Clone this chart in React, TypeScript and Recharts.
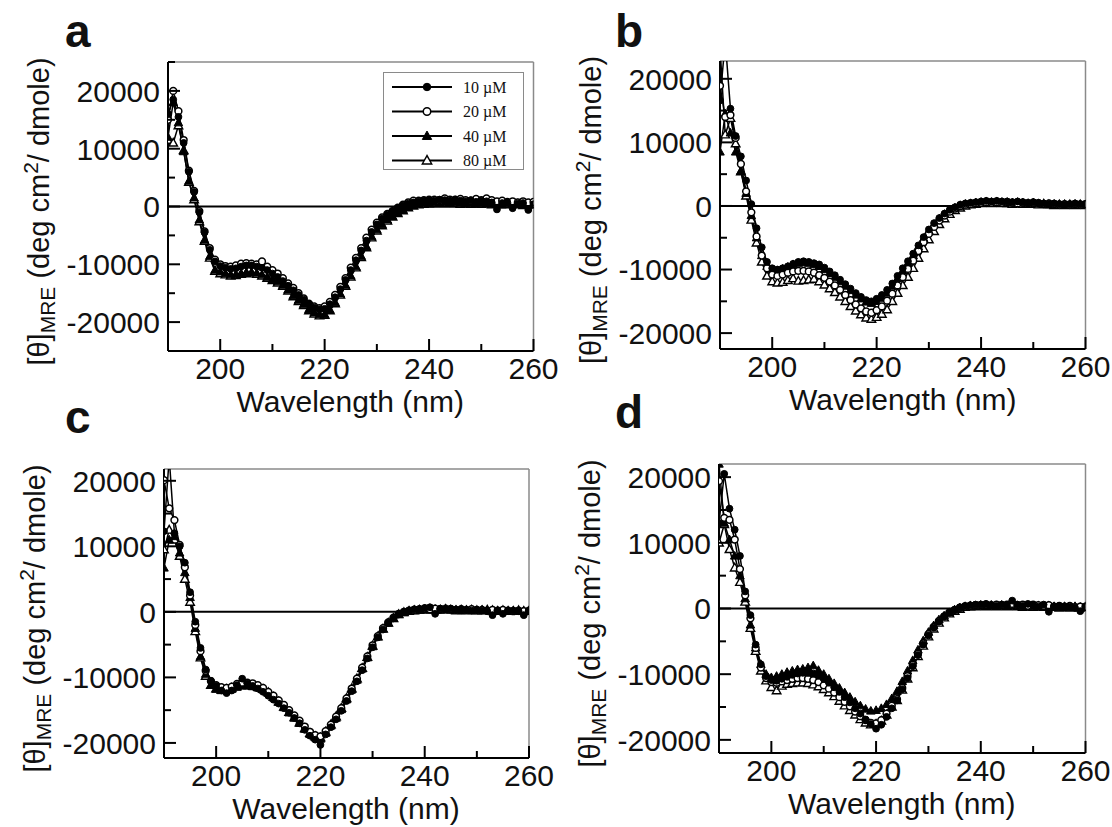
import React from 'react';
import { LineChart, Line, XAxis, YAxis, ReferenceLine, Legend } from 'recharts';

const SANS = '"Liberation Sans", Arial, Helvetica, sans-serif';
const SERIF = '"Liberation Serif", "Times New Roman", serif';

// wavelength (nm), 1 nm steps
const wavelengths = [
  190, 191, 192, 193, 194, 195, 196, 197, 198, 199,
  200, 201, 202, 203, 204, 205, 206, 207, 208, 209,
  210, 211, 212, 213, 214, 215, 216, 217, 218, 219,
  220, 221, 222, 223, 224, 225, 226, 227, 228, 229,
  230, 231, 232, 233, 234, 235, 236, 237, 238, 239,
  240, 241, 242, 243, 244, 245, 246, 247, 248, 249,
  250, 251, 252, 253, 254, 255, 256, 257, 258, 259,
  260,
];

const seriesDefs = [
  { key: 'c10', name: '10 µM', kind: 'fc' },
  { key: 'c20', name: '20 µM', kind: 'oc' },
  { key: 'c40', name: '40 µM', kind: 'ft' },
  { key: 'c80', name: '80 µM', kind: 'ot' },
];

const xTicks = [200, 210, 220, 230, 240, 250, 260];
const yTicksA = [-25000, -20000, -15000, -10000, -5000, 0, 5000, 10000, 15000, 20000, 25000];
const yTicks = [-20000, -15000, -10000, -5000, 0, 5000, 10000, 15000, 20000];

// ---- panel a ----
const a10 = [
  16000, 18500, 15500, 11000, 6000, 2500, -1000, -4500, -7500, -9500,
  -10300, -10600, -10800, -10700, -10400, -10200, -10200, -10400, -10600, -11000,
  -11600, -12200, -12900, -13700, -14500, -15300, -16100, -16900, -17500, -17800,
  -17700, -16900, -15700, -14300, -12700, -11000, -9300, -7600, -5900, -4400,
  -3100, -2100, -1400, -800, -300, 200, 500, 700, 900, 1000,
  1100, 1000, 1200, 1100, 1000, 1200, 1000, 900, 1100, 800,
  1000, 900, 700, -500, 600, 700, -300, 500, 600, -600,
  400,
];
const a20 = [
  15000, 20000, 16500, 11500, 6200, 2700, -800, -4300, -7200, -9200,
  -10000, -10300, -10400, -10200, -9900, -9800, -9900, -10000, -9500, -10400,
  -11000, -11600, -12400, -13300, -14100, -15000, -15900, -16800, -17300, -17600,
  -17300, -16500, -15300, -13900, -12400, -10600, -8900, -7200, -5400, -4000,
  -2800, -1900, -1300, -800, -200, 300, 700, 1000, 1000, 1100,
  1200, 1200, 1100, 1400, 1200, 1200, 1300, 1100, 1000, 1300,
  1100, 1400, 1100, 900, 1000, 800, 900, 700, 900, 700,
  800,
];
const a40 = [
  12000, 18000, 14500, 9500, 4400, 1500, -2300, -5800, -8600, -11000,
  -11300, -11600, -11800, -11800, -11600, -11400, -11400, -11500, -11800, -12200,
  -12600, -13000, -13600, -14400, -15400, -16200, -16900, -17800, -18400, -18700,
  -18700, -17900, -16600, -15100, -13600, -12000, -10400, -8600, -6900, -5200,
  -4000, -3100, -2300, -1700, -1100, -600, -100, 200, 400, 500,
  600, 700, 600, 700, 600, 700, 500, 600, 500, 600,
  500, 600, 400, 500, 300, 500, 400, 500, 300, 400,
  300,
];
const a80 = [
  11500, 11000, 14000, 9700, 4200, 1200, -2600, -6000, -8900, -11200,
  -11600, -11800, -12000, -11900, -11700, -11600, -11500, -11700, -12000, -12400,
  -12800, -13200, -13800, -14600, -15600, -16400, -17100, -18000, -18600, -18900,
  -18800, -18000, -16800, -15300, -13800, -12200, -10600, -8800, -7100, -5400,
  -4200, -3300, -2500, -1800, -1200, -700, -200, 100, 300, 400,
  500, 500, 600, 500, 600, 500, 400, 500, 400, 500,
  400, 500, 300, 400, 300, 400, 300, 400, 200, 300,
  300,
];

// ---- panel b ----
const b10 = [
  16600, 26000, 15300, 11000, 7800, 4000, 300, -3500, -6500, -8800,
  -9800, -10000, -9800, -9500, -9100, -8800, -8700, -8800, -9000, -9200,
  -9700, -10300, -10900, -11600, -12300, -13000, -13700, -14300, -14800, -15000,
  -14600, -14000, -13200, -12200, -11000, -9800, -8700, -7500, -6200, -4900,
  -3700, -2700, -1900, -1200, -600, -200, 200, 400, 500, 600,
  700, 800, 700, 800, 700, 700, 600, 700, 600, 500,
  600, 500, 400, 300, 400, 300, 200, 300, 400, 300,
  300,
];
const b20 = [
  18900, 14000, 14300, 10700, 6600, 2300, -1000, -4800, -7800, -9800,
  -10800, -11000, -10800, -10500, -10300, -10200, -10200, -10300, -10500, -10900,
  -11300, -11900, -12500, -13200, -14000, -14800, -15500, -16100, -16600, -16800,
  -16400, -15800, -14900, -13800, -12500, -11200, -9900, -8600, -7100, -5700,
  -4400, -3300, -2300, -1500, -900, -400, 0, 200, 300, 400,
  500, 600, 500, 600, 500, 600, 500, 400, 500, 400,
  500, 400, 300, 400, 300, 200, 300, 200, 300, 200,
  300,
];
const b40 = [
  8500, 14500, 11500, 8500, 5500, 2000, -1500, -5000, -7800, -9500,
  -10200, -10200, -9900, -9600, -9200, -9000, -8900, -9000, -9200, -9500,
  -10000, -10600, -11200, -11900, -12600, -13300, -14000, -14600, -15100, -15300,
  -15000, -14500, -13700, -12600, -11400, -10200, -9000, -7800, -6400, -5100,
  -3900, -2900, -2000, -1300, -700, -300, 100, 300, 400, 500,
  600, 700, 600, 700, 600, 600, 500, 600, 500, 400,
  500, 400, 300, 200, 300, 200, 300, 200, 300, 200,
  200,
];
const b80 = [
  25000, 11200, 13800, 9800, 5400, 1600, -2200, -5800, -8800, -11000,
  -11900, -12100, -12000, -11700, -11400, -11800, -11700, -11600, -11500, -11900,
  -12400, -13000, -13600, -14300, -15000, -15800, -16500, -17100, -17600, -17800,
  -17500, -17000, -16300, -15000, -13700, -12500, -11200, -9800, -8200, -6700,
  -5300, -4000, -2900, -2000, -1300, -700, -300, 0, 200, 300,
  400, 500, 400, 500, 400, 400, 300, 400, 300, 300,
  300, 200, 300, 200, 100, 200, 100, 200, 100, 200,
  100,
];

// ---- panel c ----
const c10 = [
  12300, 23500, 12000, 10000, 7500, 3000, -1500, -5500, -8800, -10500,
  -11300, -12000, -12400, -12000, -11200, -10200, -10900, -11300, -11700, -12200,
  -12800, -13400, -14000, -14700, -15400, -16200, -17000, -18000, -18900, -19500,
  -20300, -18700, -17600, -16400, -15100, -13600, -12100, -10600, -8900, -7100,
  -5400, -3900, -2700, -1700, -1000, -400, 0, 200, 400, 400,
  600, 700, -300, 500, 400, 500, 300, 400, 300, 200,
  300, 200, 100, -500, 200, -300, 100, 200, 100, -500,
  100,
];
const c20 = [
  20100, 15800, 14000, 10200, 6800, 2500, -2000, -6000, -9000, -10600,
  -11200, -11500, -11600, -11400, -11000, -10800, -10800, -10900, -11200, -11600,
  -12200, -12800, -13500, -14200, -15000, -15800, -16600, -17500, -18300, -18800,
  -19000, -18200, -17200, -16000, -14700, -13200, -11700, -10200, -8500, -6800,
  -5100, -3700, -2500, -1600, -900, -300, 0, 200, 300, 400,
  500, 400, 500, 400, 500, 400, 300, 400, 300, 400,
  300, 300, 200, 300, 200, 300, 200, 100, 200, 100,
  200,
];
const c40 = [
  6700, 11000, 11500, 9000, 6000, 2200, -2500, -6800, -9500, -11200,
  -11800, -12000, -12000, -11800, -11500, -11300, -11300, -11400, -11600, -11900,
  -12400, -13100, -13800, -14600, -15400, -16200, -17000, -17900, -18700, -19200,
  -19400, -18500, -17400, -16200, -14900, -13400, -11900, -10400, -8700, -7000,
  -5300, -3800, -2600, -1700, -1000, -400, -100, 100, 200, 300,
  400, 300, 400, 300, 400, 300, 300, 200, 300, 200,
  200, 300, 200, 200, 100, 200, 100, 200, 100, 100,
  100,
];
const c80 = [
  9500, 12500, 11000, 8500, 5000, 1500, -3000, -7000, -9800, -11200,
  -11700, -11900, -11800, -11600, -11300, -11200, -11200, -11300, -11500, -11800,
  -12300, -13000, -13700, -14500, -15300, -16100, -16900, -17800, -18500, -19000,
  -19200, -18300, -17200, -16000, -14700, -13200, -11700, -10200, -8600, -6900,
  -5200, -3800, -2600, -1700, -1000, -400, -100, 100, 200, 300,
  300, 400, 300, 300, 400, 300, 200, 300, 200, 300,
  200, 200, 300, 200, 100, 200, 100, 100, 200, 100,
  100,
];

// ---- panel d ----
const d10 = [
  13000, 20500, 15200, 12000, 8000, 2600, -1000, -5500, -8500, -10300,
  -10900, -11000, -10700, -10400, -10100, -9900, -9800, -9800, -9900, -10200,
  -10700, -11300, -12000, -12700, -13500, -14300, -15200, -16000, -16900, -17600,
  -18300, -17700, -16500, -15200, -14000, -12300, -10600, -8800, -7100, -5500,
  -4100, -2900, -2000, -1200, -600, -200, 200, 400, 500, 600,
  600, 700, 500, 400, 600, 500, 1200, 600, 400, 700,
  500, 300, 600, -500, 300, 400, 200, 300, 100, -400,
  200,
];
const d20 = [
  19400, 13800, 13500, 10500, 6000, 2000, -1500, -6000, -9000, -10600,
  -11200, -11300, -11100, -10900, -10700, -10600, -10600, -10700, -10900, -11200,
  -11700, -12200, -12800, -13500, -14200, -14900, -15700, -16400, -17000, -17400,
  -17500, -17000, -16000, -14800, -13800, -12100, -10300, -8600, -6900, -5300,
  -3900, -2800, -1900, -1200, -600, -200, 100, 300, 400, 500,
  500, 600, 500, 600, 500, 600, 700, 500, 600, 400,
  600, 500, 400, 500, 300, 400, 300, 400, 200, 300,
  300,
];
const d40 = [
  22000, 13000, 10500, 8000, 5000, 1500, -2500, -6000, -8500, -10000,
  -10500, -10300, -10000, -9700, -9500, -9300, -9200, -9000, -8700, -9400,
  -10000, -10700, -11400, -12100, -12800, -13500, -14200, -14800, -15300, -15600,
  -15500, -15200, -14600, -13700, -12600, -11100, -9500, -7900, -6300, -4900,
  -3600, -2600, -1700, -1100, -600, -200, 100, 300, 400, 400,
  500, 400, 500, 400, 500, 400, 500, 400, 300, 400,
  300, 400, 300, 200, 300, 200, 300, 200, 300, 200,
  200,
];
const d80 = [
  10000, 12800, 9000, 6200, 4000, 1000, -3000, -6500, -9500, -11000,
  -12000, -12500, -11800, -11500, -11400, -11300, -11300, -11400, -11600, -11900,
  -12300, -12800, -13400, -14100, -14800, -15500, -16200, -16900, -17400, -17700,
  -17600, -17100, -16200, -15000, -14000, -12400, -10700, -9000, -7300, -5700,
  -4300, -3100, -2200, -1400, -800, -400, -100, 200, 300, 300,
  400, 300, 400, 300, 400, 300, 400, 300, 200, 300,
  200, 300, 200, 300, 200, 100, 200, 100, 200, 100,
  200,
];

const toRows = (s10: number[], s20: number[], s40: number[], s80: number[]) =>
  wavelengths.map((w, i) => ({ w, c10: s10[i], c20: s20[i], c40: s40[i], c80: s80[i] }));

const YW = 150; // room left of the plot for ticks
const XH = 80;
const TOP = 24; // room above the plot for the top tick label

const panels = [
  { letter: 'a', lx: 65, ly: 47, left: 167.5, top: 62, w: 365.5, h: 289, yDomain: [-25000, 25000], ticks: yTicksA, rows: toRows(a10, a20, a40, a80), legend: true },
  { letter: 'b', lx: 615, ly: 47, left: 720, top: 61, w: 365.5, h: 288, yDomain: [-22500, 22800], ticks: yTicks, rows: toRows(b10, b20, b40, b80), legend: false },
  { letter: 'c', lx: 65, ly: 433, left: 163.5, top: 469, w: 365, h: 289, yDomain: [-22300, 21800], ticks: yTicks, rows: toRows(c10, c20, c40, c80), legend: false },
  { letter: 'd', lx: 615, ly: 428, left: 718.5, top: 464, w: 366.5, h: 289, yDomain: [-22000, 22000], ticks: yTicks, rows: toRows(d10, d20, d40, d80), legend: false },
];

function Marker({ kind, cx, cy, s = 1 }: any) {
  const r = 3.4 * s;
  if (kind === 'fc') return <circle cx={cx} cy={cy} r={r} fill="#000" stroke="#000" strokeWidth={1} />;
  if (kind === 'oc') return <circle cx={cx} cy={cy} r={r} fill="#fff" stroke="#000" strokeWidth={1.5} />;
  const t = 4.5 * s;
  const pts = `${cx},${cy - t} ${cx - t * 0.95},${cy + t * 0.7} ${cx + t * 0.95},${cy + t * 0.7}`;
  return (
    <polygon
      points={pts}
      fill={kind === 'ft' ? '#000' : '#fff'}
      stroke="#000"
      strokeWidth={kind === 'ft' ? 1 : 1.4}
    />
  );
}

const YTick = (props: any) => {
  const { x, y, payload } = props;
  const v = payload.value;
  const major = v % 10000 === 0;
  return (
    <g>
      <line x1={x} y1={y} x2={x + (major ? 12 : 7)} y2={y} stroke="#000" strokeWidth={2} />
      {major && (
        <text x={x - 8} y={y} dy="0.36em" textAnchor="end" fontFamily={SANS} fontSize={30} fill="#111">
          {v}
        </text>
      )}
    </g>
  );
};

const XTick = (props: any) => {
  const { x, y, payload } = props;
  const v = payload.value;
  const major = v % 20 === 0;
  return (
    <g>
      <line x1={x} y1={y} x2={x} y2={y - (major ? 12 : 7)} stroke="#000" strokeWidth={2} />
      {major && (
        <text x={x} y={y + 28} textAnchor="middle" fontFamily={SANS} fontSize={30} fill="#111">
          {v}
        </text>
      )}
    </g>
  );
};

const LegendBox = () => (
  <div style={{ width: 141, height: 98, border: '1px solid #8a8a8a', boxSizing: 'border-box', background: '#fff' }}>
    <svg width={139} height={96} style={{ display: 'block' }}>
      {seriesDefs.map((s, i) => (
        <g key={s.key} transform={`translate(0, ${14 + i * 24.5})`}>
          <line x1={8} x2={68} y1={0} y2={0} stroke="#000" strokeWidth={2} />
          <Marker kind={s.kind} cx={43} cy={0} s={1.1} />
          <text x={79} y={0} dy="0.35em" fontFamily={SERIF} fontSize={16} fill="#111">
            {s.name}
          </text>
        </g>
      ))}
    </svg>
  </div>
);

function Titles({ p }: any) {
  const cx = p.left - 119;
  const cy = p.top + p.h / 2 + 5;
  return (
    <g>
      <text x={p.lx} y={p.ly} fontFamily={SANS} fontWeight="bold" fontSize={46} fill="#111">
        {p.letter}
      </text>
      <text
        transform={`translate(${cx},${cy}) rotate(-90)`}
        textAnchor="middle"
        fontFamily={SANS}
        fontSize={29}
        fill="#111"
      >
        <tspan>[θ]</tspan>
        <tspan fontSize={21} dy={6}>MRE</tspan>
        <tspan dy={-6}>{'\u00A0(deg cm'}</tspan>
        <tspan fontSize={21} dy={-11}>2</tspan>
        <tspan dy={11}>{'/ dmole)'}</tspan>
      </text>
      <text x={p.left + p.w / 2} y={p.top + p.h + 61} textAnchor="middle" fontFamily={SANS} fontSize={30} fill="#111">
        Wavelength (nm)
      </text>
    </g>
  );
}

function Panel({ p }: any) {
  return (
    <div style={{ position: 'absolute', left: p.left - YW, top: p.top - TOP }}>
      <LineChart
        width={YW + p.w + 30}
        height={TOP + p.h + XH}
        data={p.rows}
        margin={{ top: TOP, right: 30, bottom: 0, left: 0 }}
      >
        <XAxis
          dataKey="w"
          type="number"
          domain={[190, 260]}
          ticks={xTicks}
          interval={0}
          height={XH}
          tickSize={0}
          tickMargin={0}
          tickLine={false}
          tick={XTick}
          axisLine={{ stroke: '#000', strokeWidth: 2 }}
          allowDataOverflow
        />
        <YAxis
          type="number"
          domain={p.yDomain}
          ticks={p.ticks}
          interval={0}
          width={YW}
          tickSize={0}
          tickMargin={0}
          tickLine={false}
          tick={YTick}
          axisLine={{ stroke: '#000', strokeWidth: 2 }}
          allowDataOverflow
        />
        <ReferenceLine y={p.yDomain[1]} stroke="#8a8a8a" strokeWidth={1.5} />
        <ReferenceLine x={260} stroke="#8a8a8a" strokeWidth={1.5} />
        <ReferenceLine y={0} stroke="#000" strokeWidth={2} />
        {[...seriesDefs].reverse().map((s) => (
          <Line
            key={s.key}
            type="linear"
            dataKey={s.key}
            name={s.name}
            stroke="#000"
            strokeWidth={1.5}
            isAnimationActive={false}
            dot={(d: any) => (
              <g key={`${s.key}-${d.index}`}>
                {d.cx != null && d.cy != null && <Marker kind={s.kind} cx={d.cx} cy={d.cy} />}
              </g>
            )}
            activeDot={false}
          />
        ))}
        {p.legend && (
          <Legend
            layout="vertical"
            align="center"
            verticalAlign="middle"
            content={<LegendBox />}
            wrapperStyle={{ left: 365.5, top: 72 - (p.top - TOP), width: 141, height: 98 }}
          />
        )}
      </LineChart>
    </div>
  );
}

export default function App() {
  return (
    <div style={{ position: 'absolute', left: 0, top: 0, width: 1112, height: 827, background: '#fff', overflow: 'hidden' }}>
      <svg width={1112} height={827} style={{ position: 'absolute', left: 0, top: 0 }}>
        {panels.map((p) => (
          <Titles key={p.letter} p={p} />
        ))}
      </svg>
      {panels.map((p) => (
        <Panel key={p.letter} p={p} />
      ))}
    </div>
  );
}
